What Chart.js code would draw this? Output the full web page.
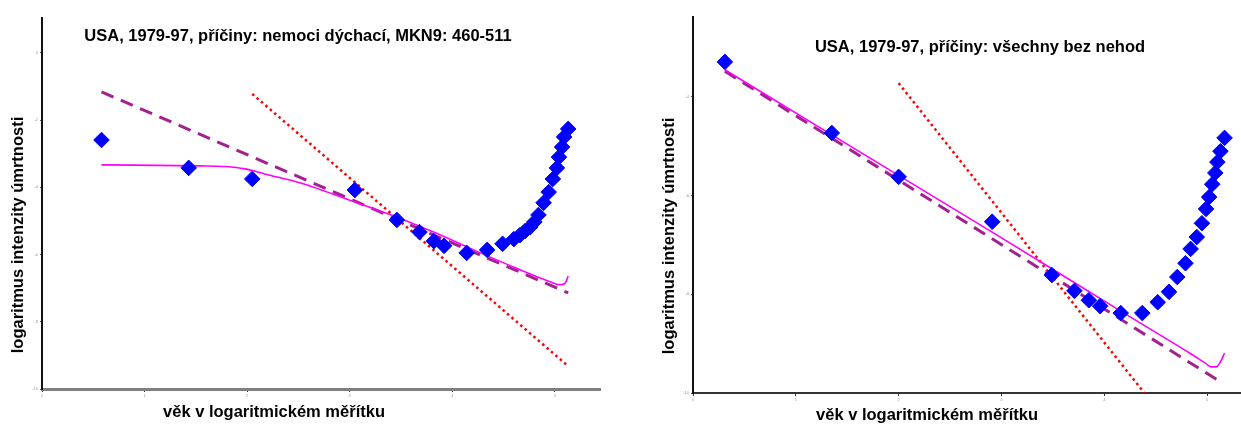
<!DOCTYPE html>
<html>
<head>
<meta charset="utf-8">
<script src="https://cdn.jsdelivr.net/npm/chart.js@4.4.1/dist/chart.umd.min.js"></script>
<style>
  html, body { margin: 0; padding: 0; background: #fff; overflow: hidden; }
  .panel { position: absolute; top: 0; height: 424px; }
  #left { left: 0; width: 620px; }
  #right { left: 620px; width: 640px; }
</style>
</head>
<body>
<div class="panel" id="left"><canvas id="respChart"></canvas></div>
<div class="panel" id="right"><canvas id="allChart"></canvas></div>
<script>
// tick values (labels in the picture are too small to read, these are guesses)
const xTicks = [0, 1, 2, 3, 4, 5]
const respYTicks = [-10, -8, -6, -4, -2, 0]
const allYTicks = [-10, -8, -6, -4]

// left panel: respiratory diseases (MKN9 460-511)
const respAge = [0.58, 1.43, 2.05, 3.05, 3.46, 3.68, 3.82, 3.92, 4.14, 4.34, 4.49, 4.60, 4.66, 4.71, 4.76, 4.80, 4.84, 4.89, 4.94, 4.98, 5.02, 5.04, 5.07, 5.09, 5.13]
const respRate = [-2.59, -3.42, -3.75, -4.08, -4.97, -5.33, -5.60, -5.74, -5.95, -5.86, -5.68, -5.54, -5.42, -5.30, -5.18, -5.03, -4.82, -4.46, -4.14, -3.75, -3.42, -3.10, -2.80, -2.50, -2.26]
const respDashX = [0.58, 5.13]
const respDashY = [-1.16, -7.14]
const respDotX = [2.05, 5.13]
const respDotY = [-1.22, -9.32]
const respFitX = [0.58, 1.54, 1.79, 1.98, 2.17, 2.52, 3.07, 3.48, 3.84, 4.23, 4.62, 4.94, 5.05, 5.10, 5.13]
const respFitY = [-3.33, -3.36, -3.38, -3.45, -3.60, -3.87, -4.46, -4.91, -5.36, -5.89, -6.40, -6.79, -6.90, -6.85, -6.64]

// right panel: all causes except accidents
const allAge = [0.31, 1.35, 2.00, 2.91, 3.49, 3.71, 3.85, 3.96, 4.16, 4.37, 4.52, 4.63, 4.71, 4.79, 4.84, 4.90, 4.95, 4.99, 5.02, 5.05, 5.08, 5.10, 5.13, 5.17]
const allRate = [-3.29, -4.73, -5.62, -6.53, -7.61, -7.93, -8.12, -8.24, -8.38, -8.38, -8.16, -7.95, -7.65, -7.37, -7.08, -6.84, -6.56, -6.27, -6.03, -5.77, -5.54, -5.32, -5.10, -4.83]
const allDashX = [0.31, 5.12]
const allDashY = [-3.48, -9.76]
const allDotX = [2.00, 4.39]
const allDotY = [-3.72, -10.0]
const allFitX = [0.31, 1.35, 2.91, 4.16, 4.83, 4.98, 5.04, 5.09, 5.13, 5.17]
const allFitY = [-3.45, -4.77, -6.74, -8.34, -9.19, -9.39, -9.47, -9.47, -9.37, -9.19]

const FONT = '"Liberation Sans", Arial, sans-serif'
const pts = (xs, ys) => xs.map((x, i) => ({ x: x, y: ys[i] }))

// titles are drawn by hand, the picture places them inside / off-centre
const panelText = {
  id: "panelText",
  afterDraw(chart, args, o) {
    const ctx = chart.ctx
    ctx.save()
    ctx.fillStyle = "#000"
    ctx.font = "bold 16.5px " + FONT
    ctx.textAlign = "center"
    ctx.textBaseline = "middle"
    ctx.fillText(o.title, o.titleAt[0], o.titleAt[1])
    ctx.fillText("věk v logaritmickém měřítku", o.xTitleAt[0], o.xTitleAt[1])
    ctx.translate(o.yTitleAt[0], o.yTitleAt[1])
    ctx.rotate(-Math.PI / 2)
    ctx.fillText("logaritmus intenzity úmrtnosti", 0, 0)
    ctx.restore()
  }
}

function makeChart(id, p) {
  return new Chart(document.getElementById(id), {
    type: "scatter",
    data: {
      datasets: [
        {
          data: pts(p.ages, p.rates),
          pointStyle: "rectRot",
          pointRadius: 7.8,
          pointBackgroundColor: "#0000ff",
          pointBorderColor: "#0000ff",
          pointBorderWidth: 1,
          order: 0
        },
        {
          type: "line",
          data: pts(p.dashX, p.dashY),
          borderColor: "#a3208f",
          borderWidth: 3,
          borderDash: [13, 8],
          pointRadius: 0,
          order: 2
        },
        {
          type: "line",
          data: pts(p.dotX, p.dotY),
          borderColor: "#ff0000",
          borderWidth: 2.5,
          borderDash: [2.5, 3.3],
          pointRadius: 0,
          order: 3
        },
        {
          type: "line",
          data: pts(p.fitX, p.fitY),
          borderColor: "#ff00ff",
          borderWidth: 1.6,
          cubicInterpolationMode: "monotone",
          pointRadius: 0,
          order: 1
        }
      ]
    },
    options: {
      responsive: true,
      maintainAspectRatio: false,
      animation: false,
      layout: { padding: p.padding },
      plugins: {
        legend: { display: false },
        tooltip: { enabled: false },
        panelText: p.text
      },
      scales: {
        x: {
          type: "linear",
          min: 0,
          max: p.xMax,
          afterBuildTicks: (s) => { s.ticks = xTicks.map(v => ({ value: v })) },
          afterFit: (s) => { s.height = p.xHeight },
          border: { color: p.xAxisColor, width: p.xAxisWidth },
          grid: { drawOnChartArea: false, tickLength: 3, color: "#333" },
          ticks: { padding: 1, color: "#999", font: { size: 4, family: FONT } }
        },
        y: {
          min: -10,
          max: p.yMax,
          afterBuildTicks: (s) => { s.ticks = p.yTicks.map(v => ({ value: v })) },
          afterFit: (s) => { s.width = p.yWidth },
          border: { color: "#111", width: 2 },
          grid: { drawOnChartArea: false, tickLength: 2, color: "#555" },
          ticks: { padding: 2, color: "#999", font: { size: 4, family: FONT } }
        }
      }
    },
    plugins: [panelText]
  })
}

makeChart("respChart", {
  ages: respAge, rates: respRate,
  dashX: respDashX, dashY: respDashY,
  dotX: respDotX, dotY: respDotY,
  fitX: respFitX, fitY: respFitY,
  yTicks: respYTicks,
  xMax: 5.44, yMax: 1.04,
  yWidth: 42, xHeight: 35,
  xAxisColor: "#808080", xAxisWidth: 3,
  padding: { top: 18, right: 20, left: 0, bottom: 0 },
  text: {
    title: "USA, 1979-97, příčiny: nemoci dýchací, MKN9: 460-511",
    titleAt: [298, 36],
    xTitleAt: [274, 412],
    yTitleAt: [18, 235]
  }
})

makeChart("allChart", {
  ages: allAge, rates: allRate,
  dashX: allDashX, dashY: allDashY,
  dotX: allDotX, dotY: allDotY,
  fitX: allFitX, fitY: allFitY,
  yTicks: allYTicks,
  xMax: 5.33, yMax: -2.38,
  yWidth: 73, xHeight: 31,
  xAxisColor: "#333", xAxisWidth: 2,
  padding: { top: 17, right: 19, left: 0, bottom: 0 },
  text: {
    title: "USA, 1979-97, příčiny: všechny bez nehod",
    titleAt: [360, 47],
    xTitleAt: [307, 415],
    yTitleAt: [49, 236]
  }
})
</script>
</body>
</html>
